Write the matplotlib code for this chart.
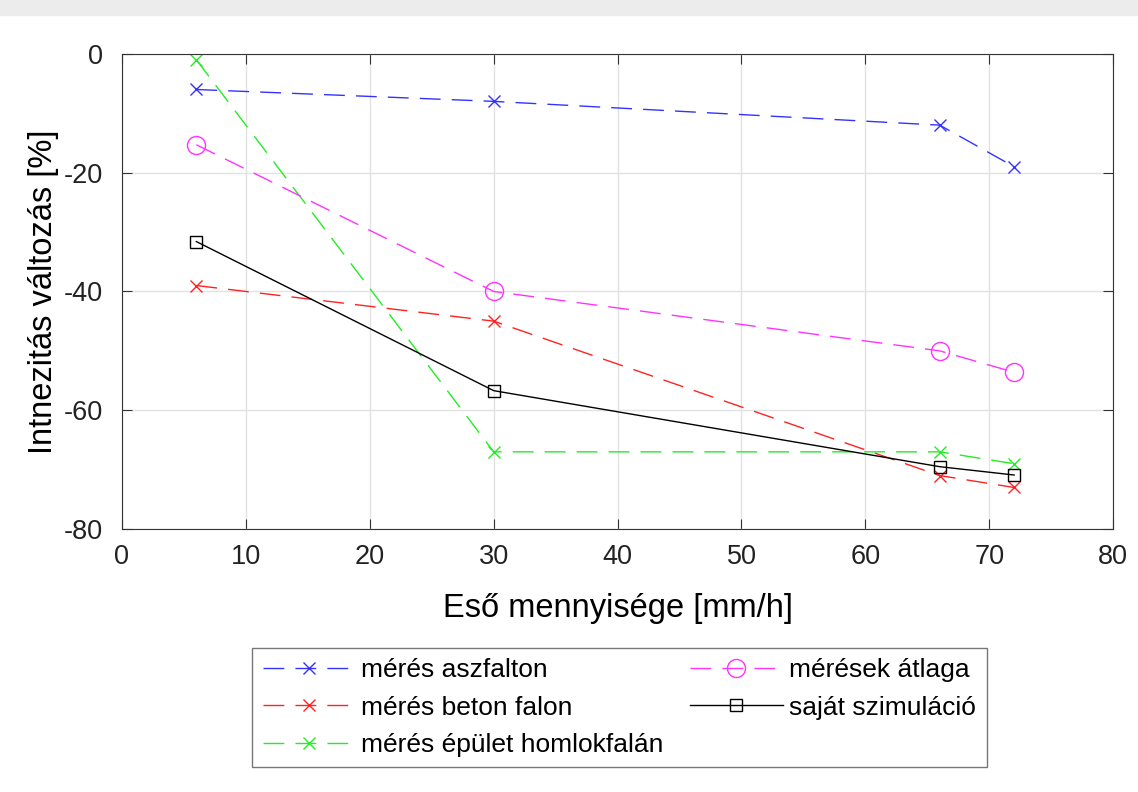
import numpy as np
import matplotlib.pyplot as plt
from matplotlib.patches import Rectangle

plt.rcParams['font.family'] = ['Liberation Sans', 'DejaVu Sans']
plt.rcParams['axes.unicode_minus'] = False

# adatok
eso = [6, 30, 66, 72]
aszfalt = [-6, -8, -12, -19]
beton = [-39, -45, -71, -73]
homlokfal = [-1, -67, -67, -69]
atlag = [-15.3, -40, -50, -53.6]
szimulacio = [-31.6, -56.7, -69.5, -70.9]

fig = plt.figure(figsize=(11.38, 7.92), dpi=100)
fig.patches.append(Rectangle((0, 0.981), 1, 0.019, transform=fig.transFigure,
                             color="#ececec", zorder=0))
ax = fig.add_axes([0.1072, 0.332, 0.871, 0.600])

dash = (15, 8)
ax.plot(eso, aszfalt, color="#3333ff", marker="x", markersize=9, lw=1,
        dashes=dash, label="mérés aszfalton")
ax.plot(eso, beton, color="#ff2222", marker="x", markersize=9, lw=1,
        dashes=dash, label="mérés beton falon")
ax.plot(eso, homlokfal, color="#22ee22", marker="x", markersize=9, lw=1,
        dashes=dash, label="mérés épület homlokfalán")
ax.plot(eso, atlag, color="#ff33ff", marker="o", markersize=13, mfc="none",
        lw=1, dashes=dash, label="mérések átlaga")
ax.plot(eso, szimulacio, color="black", marker="s", markersize=9, mfc="none",
        lw=1, label="saját szimuláció")

ax.set_xlim(0, 80)
ax.set_ylim(-80, 0)
ax.set_xticks(np.arange(0, 81, 10))
ax.set_yticks(np.arange(-80, 1, 20))
ax.grid(True, color="#e2e2e2", lw=1)
ax.set_axisbelow(True)
ax.tick_params(direction="in", top=True, right=True, labelsize=19.5, length=7,
               color="#333333", labelcolor="#222222")
ax.tick_params(axis="x", pad=11)
ax.tick_params(axis="y", pad=14)
for s in ax.spines.values():
    s.set_color("#333333")
ax.set_xlabel("Eső mennyisége [mm/h]", fontsize=23.5, labelpad=16)
ax.set_ylabel("Intnezitás változás [%]", fontsize=23.5, labelpad=3)

leg = fig.legend(loc="upper left", bbox_to_anchor=(0.2214, 0.182), ncol=2,
                 borderaxespad=0, fontsize=19, frameon=True, fancybox=False,
                 edgecolor="#555555", handlelength=3.5, handletextpad=0.25,
                 columnspacing=1.0, borderpad=0.4, labelspacing=0.5)
leg.get_frame().set_linewidth(1)
plt.savefig("out.png", dpi=100)
